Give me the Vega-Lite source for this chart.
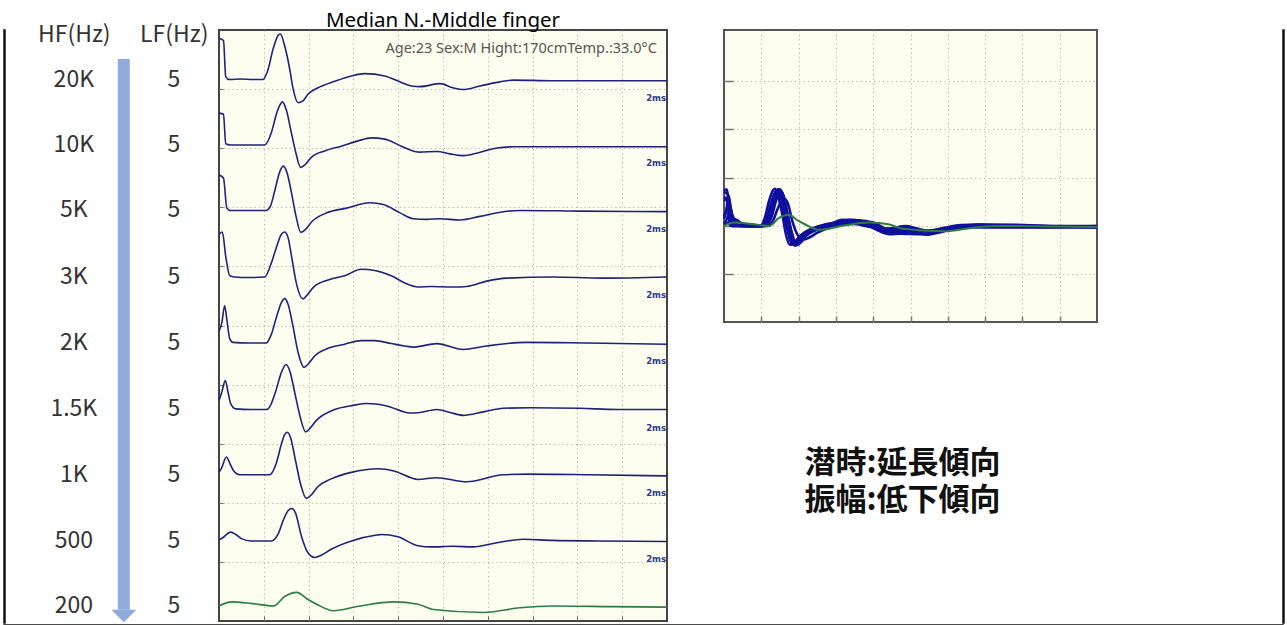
{
"$schema": "https://vega.github.io/schema/vega-lite/v6.json",
"padding": {"left": 3, "top": 9, "right": 0, "bottom": 0},
"autosize": {"type": "pad"},
"background": "white",
"datasets": {
"filters": [
{"hf":"20K","lf":"5","base":9.162},{"hf":"10K","lf":"5","base":8.054},{"hf":"5K","lf":"5","base":6.946},{"hf":"3K","lf":"5","base":5.821},{"hf":"2K","lf":"5","base":4.704},{"hf":"1.5K","lf":"5","base":3.579},{"hf":"1K","lf":"5","base":2.475},{"hf":"500","lf":"5","base":1.354},{"hf":"200","lf":"5","base":0.254}
],
"waves": [
{"hf":"20K","t":0,"amp":0.7},{"hf":"20K","t":0.2,"amp":0.66},{"hf":"20K","t":0.3,"amp":0.05},{"hf":"20K","t":0.45,"amp":0},{"hf":"20K","t":1.0,"amp":0.01},{"hf":"20K","t":1.5,"amp":0},{"hf":"20K","t":1.96,"amp":0},{"hf":"20K","t":2.19,"amp":0.17},{"hf":"20K","t":2.41,"amp":0.51},{"hf":"20K","t":2.63,"amp":0.74},{"hf":"20K","t":2.74,"amp":0.77},{"hf":"20K","t":2.93,"amp":0.57},{"hf":"20K","t":3.16,"amp":0.17},{"hf":"20K","t":3.3,"amp":-0.14},{"hf":"20K","t":3.53,"amp":-0.39},{"hf":"20K","t":3.75,"amp":-0.36},{"hf":"20K","t":3.97,"amp":-0.25},{"hf":"20K","t":4.42,"amp":-0.14},{"hf":"20K","t":5.17,"amp":-0.03},{"hf":"20K","t":5.91,"amp":0.06},{"hf":"20K","t":6.5,"amp":0.1},{"hf":"20K","t":7.4,"amp":0.06},{"hf":"20K","t":8.14,"amp":-0.05},{"hf":"20K","t":8.59,"amp":-0.11},{"hf":"20K","t":8.97,"amp":-0.12},{"hf":"20K","t":9.87,"amp":-0.07},{"hf":"20K","t":10.45,"amp":-0.14},{"hf":"20K","t":10.9,"amp":-0.17},{"hf":"20K","t":11.65,"amp":-0.11},{"hf":"20K","t":12.54,"amp":-0.04},{"hf":"20K","t":13.13,"amp":-0.01},{"hf":"20K","t":14.9,"amp":-0.02},{"hf":"20K","t":17.1,"amp":-0.02},{"hf":"20K","t":20,"amp":-0.02},
{"hf":"10K","t":0,"amp":0.54},{"hf":"10K","t":0.2,"amp":0.52},{"hf":"10K","t":0.3,"amp":0.02},{"hf":"10K","t":0.5,"amp":0},{"hf":"10K","t":1.2,"amp":0},{"hf":"10K","t":2.04,"amp":0},{"hf":"10K","t":2.34,"amp":0.21},{"hf":"10K","t":2.56,"amp":0.52},{"hf":"10K","t":2.71,"amp":0.67},{"hf":"10K","t":2.83,"amp":0.73},{"hf":"10K","t":3.0,"amp":0.6},{"hf":"10K","t":3.23,"amp":0.21},{"hf":"10K","t":3.41,"amp":-0.1},{"hf":"10K","t":3.65,"amp":-0.38},{"hf":"10K","t":3.85,"amp":-0.33},{"hf":"10K","t":4.12,"amp":-0.21},{"hf":"10K","t":4.72,"amp":-0.1},{"hf":"10K","t":5.46,"amp":-0.02},{"hf":"10K","t":6.21,"amp":0.07},{"hf":"10K","t":6.8,"amp":0.12},{"hf":"10K","t":7.4,"amp":0.1},{"hf":"10K","t":8.14,"amp":-0.02},{"hf":"10K","t":8.74,"amp":-0.11},{"hf":"10K","t":8.97,"amp":-0.12},{"hf":"10K","t":9.72,"amp":-0.11},{"hf":"10K","t":10.31,"amp":-0.15},{"hf":"10K","t":10.9,"amp":-0.18},{"hf":"10K","t":11.5,"amp":-0.14},{"hf":"10K","t":12.4,"amp":-0.05},{"hf":"10K","t":13.14,"amp":-0.03},{"hf":"10K","t":15,"amp":-0.03},{"hf":"10K","t":20,"amp":-0.03},
{"hf":"5K","t":0,"amp":0.6},{"hf":"5K","t":0.2,"amp":0.55},{"hf":"5K","t":0.35,"amp":0.04},{"hf":"5K","t":0.5,"amp":0},{"hf":"5K","t":1.2,"amp":0},{"hf":"5K","t":2.1,"amp":0},{"hf":"5K","t":2.28,"amp":0.06},{"hf":"5K","t":2.5,"amp":0.35},{"hf":"5K","t":2.69,"amp":0.63},{"hf":"5K","t":2.87,"amp":0.75},{"hf":"5K","t":3.02,"amp":0.66},{"hf":"5K","t":3.24,"amp":0.29},{"hf":"5K","t":3.44,"amp":-0.1},{"hf":"5K","t":3.65,"amp":-0.37},{"hf":"5K","t":3.84,"amp":-0.33},{"hf":"5K","t":4.14,"amp":-0.19},{"hf":"5K","t":4.81,"amp":-0.04},{"hf":"5K","t":5.7,"amp":0.04},{"hf":"5K","t":6.74,"amp":0.13},{"hf":"5K","t":7.34,"amp":0.1},{"hf":"5K","t":8.08,"amp":-0.04},{"hf":"5K","t":8.67,"amp":-0.14},{"hf":"5K","t":9.27,"amp":-0.15},{"hf":"5K","t":9.87,"amp":-0.14},{"hf":"5K","t":10.76,"amp":-0.16},{"hf":"5K","t":11.65,"amp":-0.1},{"hf":"5K","t":12.69,"amp":-0.02},{"hf":"5K","t":13.44,"amp":0},{"hf":"5K","t":16,"amp":-0.01},{"hf":"5K","t":20,"amp":-0.02},
{"hf":"3K","t":0,"amp":0.72},{"hf":"3K","t":0.15,"amp":0.76},{"hf":"3K","t":0.3,"amp":0.35},{"hf":"3K","t":0.48,"amp":0.02},{"hf":"3K","t":0.7,"amp":0},{"hf":"3K","t":1.3,"amp":-0.01},{"hf":"3K","t":2.04,"amp":0},{"hf":"3K","t":2.34,"amp":0.24},{"hf":"3K","t":2.56,"amp":0.5},{"hf":"3K","t":2.78,"amp":0.72},{"hf":"3K","t":2.93,"amp":0.76},{"hf":"3K","t":3.08,"amp":0.67},{"hf":"3K","t":3.26,"amp":0.3},{"hf":"3K","t":3.45,"amp":-0.1},{"hf":"3K","t":3.75,"amp":-0.37},{"hf":"3K","t":3.9,"amp":-0.32},{"hf":"3K","t":4.2,"amp":-0.18},{"hf":"3K","t":4.87,"amp":-0.05},{"hf":"3K","t":5.61,"amp":0.02},{"hf":"3K","t":6.35,"amp":0.13},{"hf":"3K","t":6.95,"amp":0.11},{"hf":"3K","t":7.69,"amp":0.02},{"hf":"3K","t":8.29,"amp":-0.1},{"hf":"3K","t":8.88,"amp":-0.17},{"hf":"3K","t":9.48,"amp":-0.16},{"hf":"3K","t":10.46,"amp":-0.17},{"hf":"3K","t":11.06,"amp":-0.16},{"hf":"3K","t":11.95,"amp":-0.07},{"hf":"3K","t":12.84,"amp":-0.02},{"hf":"3K","t":14.9,"amp":0},{"hf":"3K","t":17.1,"amp":-0.02},{"hf":"3K","t":20,"amp":0},
{"hf":"2K","t":0,"amp":0.2},{"hf":"2K","t":0.13,"amp":0.35},{"hf":"2K","t":0.25,"amp":0.63},{"hf":"2K","t":0.35,"amp":0.4},{"hf":"2K","t":0.48,"amp":0.07},{"hf":"2K","t":0.63,"amp":0.01},{"hf":"2K","t":1.3,"amp":0},{"hf":"2K","t":2.11,"amp":0},{"hf":"2K","t":2.34,"amp":0.15},{"hf":"2K","t":2.56,"amp":0.43},{"hf":"2K","t":2.78,"amp":0.68},{"hf":"2K","t":2.93,"amp":0.75},{"hf":"2K","t":3.08,"amp":0.66},{"hf":"2K","t":3.3,"amp":0.29},{"hf":"2K","t":3.53,"amp":-0.16},{"hf":"2K","t":3.8,"amp":-0.41},{"hf":"2K","t":3.97,"amp":-0.36},{"hf":"2K","t":4.27,"amp":-0.22},{"hf":"2K","t":4.87,"amp":-0.09},{"hf":"2K","t":5.61,"amp":-0.02},{"hf":"2K","t":6.35,"amp":0.04},{"hf":"2K","t":6.95,"amp":0.04},{"hf":"2K","t":7.69,"amp":-0.01},{"hf":"2K","t":8.29,"amp":-0.05},{"hf":"2K","t":8.67,"amp":-0.07},{"hf":"2K","t":9.72,"amp":-0.01},{"hf":"2K","t":10.9,"amp":-0.11},{"hf":"2K","t":11.95,"amp":-0.05},{"hf":"2K","t":13.74,"amp":0.01},{"hf":"2K","t":16.4,"amp":0},{"hf":"2K","t":20,"amp":-0.02},
{"hf":"1.5K","t":0,"amp":0.15},{"hf":"1.5K","t":0.13,"amp":0.3},{"hf":"1.5K","t":0.28,"amp":0.49},{"hf":"1.5K","t":0.4,"amp":0.3},{"hf":"1.5K","t":0.52,"amp":0.1},{"hf":"1.5K","t":0.75,"amp":0.01},{"hf":"1.5K","t":1.4,"amp":0},{"hf":"1.5K","t":2.13,"amp":0},{"hf":"1.5K","t":2.3,"amp":0.07},{"hf":"1.5K","t":2.5,"amp":0.27},{"hf":"1.5K","t":2.8,"amp":0.64},{"hf":"1.5K","t":2.99,"amp":0.76},{"hf":"1.5K","t":3.17,"amp":0.64},{"hf":"1.5K","t":3.39,"amp":0.27},{"hf":"1.5K","t":3.62,"amp":-0.12},{"hf":"1.5K","t":3.87,"amp":-0.38},{"hf":"1.5K","t":4.06,"amp":-0.32},{"hf":"1.5K","t":4.36,"amp":-0.18},{"hf":"1.5K","t":5.1,"amp":-0.01},{"hf":"1.5K","t":6.0,"amp":0.07},{"hf":"1.5K","t":6.59,"amp":0.1},{"hf":"1.5K","t":7.49,"amp":0.06},{"hf":"1.5K","t":8.53,"amp":-0.06},{"hf":"1.5K","t":8.97,"amp":-0.05},{"hf":"1.5K","t":9.72,"amp":0},{"hf":"1.5K","t":10.31,"amp":-0.05},{"hf":"1.5K","t":10.9,"amp":-0.1},{"hf":"1.5K","t":11.8,"amp":-0.04},{"hf":"1.5K","t":12.69,"amp":0.02},{"hf":"1.5K","t":13.88,"amp":0.03},{"hf":"1.5K","t":16.1,"amp":0.02},{"hf":"1.5K","t":17.8,"amp":0},{"hf":"1.5K","t":20,"amp":0},
{"hf":"1K","t":0,"amp":0.05},{"hf":"1K","t":0.1,"amp":0.1},{"hf":"1K","t":0.33,"amp":0.3},{"hf":"1K","t":0.5,"amp":0.18},{"hf":"1K","t":0.63,"amp":0.08},{"hf":"1K","t":0.92,"amp":0},{"hf":"1K","t":1.6,"amp":0},{"hf":"1K","t":2.26,"amp":0},{"hf":"1K","t":2.56,"amp":0.2},{"hf":"1K","t":2.78,"amp":0.51},{"hf":"1K","t":2.93,"amp":0.68},{"hf":"1K","t":3.05,"amp":0.72},{"hf":"1K","t":3.2,"amp":0.62},{"hf":"1K","t":3.41,"amp":0.25},{"hf":"1K","t":3.65,"amp":-0.17},{"hf":"1K","t":3.9,"amp":-0.4},{"hf":"1K","t":4.12,"amp":-0.34},{"hf":"1K","t":4.42,"amp":-0.2},{"hf":"1K","t":5.01,"amp":-0.07},{"hf":"1K","t":5.91,"amp":0.04},{"hf":"1K","t":7.1,"amp":0.1},{"hf":"1K","t":7.84,"amp":0.06},{"hf":"1K","t":8.88,"amp":-0.08},{"hf":"1K","t":9.72,"amp":-0.05},{"hf":"1K","t":11.06,"amp":-0.12},{"hf":"1K","t":12.69,"amp":0},{"hf":"1K","t":13.74,"amp":0.01},{"hf":"1K","t":16.5,"amp":0},{"hf":"1K","t":20,"amp":-0.02},
{"hf":"500","t":0,"amp":0.02},{"hf":"500","t":0.15,"amp":0.05},{"hf":"500","t":0.52,"amp":0.15},{"hf":"500","t":0.75,"amp":0.11},{"hf":"500","t":1.0,"amp":0.04},{"hf":"500","t":1.44,"amp":0},{"hf":"500","t":2.34,"amp":0},{"hf":"500","t":2.63,"amp":0.11},{"hf":"500","t":2.86,"amp":0.34},{"hf":"500","t":3.08,"amp":0.51},{"hf":"500","t":3.26,"amp":0.55},{"hf":"500","t":3.41,"amp":0.48},{"hf":"500","t":3.68,"amp":0.08},{"hf":"500","t":3.97,"amp":-0.2},{"hf":"500","t":4.27,"amp":-0.28},{"hf":"500","t":4.57,"amp":-0.24},{"hf":"500","t":5.01,"amp":-0.14},{"hf":"500","t":5.91,"amp":0},{"hf":"500","t":7.04,"amp":0.1},{"hf":"500","t":7.25,"amp":0.11},{"hf":"500","t":7.99,"amp":0.07},{"hf":"500","t":8.88,"amp":-0.08},{"hf":"500","t":9.48,"amp":-0.1},{"hf":"500","t":10.46,"amp":-0.09},{"hf":"500","t":11.35,"amp":-0.1},{"hf":"500","t":12.4,"amp":-0.03},{"hf":"500","t":13.59,"amp":0.03},{"hf":"500","t":14.9,"amp":0.01},{"hf":"500","t":17,"amp":0},{"hf":"500","t":20,"amp":-0.01},
{"hf":"200","t":0,"amp":0},{"hf":"200","t":0.57,"amp":0.07},{"hf":"200","t":1.5,"amp":0.04},{"hf":"200","t":2.43,"amp":0},{"hf":"200","t":2.93,"amp":0.16},{"hf":"200","t":3.47,"amp":0.23},{"hf":"200","t":3.97,"amp":0.11},{"hf":"200","t":4.36,"amp":0.03},{"hf":"200","t":5.1,"amp":-0.08},{"hf":"200","t":6.3,"amp":0},{"hf":"200","t":7.78,"amp":0.07},{"hf":"200","t":8.88,"amp":0.03},{"hf":"200","t":9.57,"amp":-0.06},{"hf":"200","t":11.8,"amp":-0.11},{"hf":"200","t":13.44,"amp":-0.03},{"hf":"200","t":14.9,"amp":0},{"hf":"200","t":17.5,"amp":-0.01},{"hf":"200","t":20,"amp":-0.02}
]
},
"spacing": 0,
"bounds": "full",
"vconcat": [
{
"spacing": 7,
"bounds": "flush",
"hconcat": [
{
"width": 1, "height": 593,
"view": {"stroke": "#111111", "strokeWidth": 1.5, "fill": "#111111"},
"data": {"values": []},
"mark": {"type": "point", "opacity": 0}
},
{
"width": 200, "height": 591,
"view": {"stroke": null},
"layer": [
{
"data": {"name": "filters"},
"transform": [{"fold": ["hf", "lf"], "as": ["col", "val"]}],
"mark": {"type": "text", "fontSize": 23, "font": "Noto Sans CJK JP", "color": "#333333", "baseline": "middle"},
"encoding": {
"x": {"field": "col", "type": "nominal", "scale": {"type": "point", "domain": ["hf", "arrow", "lf"], "padding": 1.04, "align": 0.618},
"axis": {"orient": "top", "title": null, "domain": false, "ticks": false, "tickSize": 0, "labelPadding": -4, "labelBaseline": "middle", "labelAngle": 0, "labelFontSize": 23, "labelFont": "Noto Sans CJK JP", "labelColor": "#333333", "labelExpr": "datum.value == 'hf' ? 'HF(Hz)' : datum.value == 'lf' ? 'LF(Hz)' : ''"}},
"y": {"field": "base", "type": "quantitative", "scale": {"domain": [0, 10], "nice": false, "zero": false}, "axis": null},
"text": {"field": "val"}
}
},
{
"data": {"values": [{"arrow": "HF decreasing"}]},
"mark": {"type": "rule", "color": "#8FAADC", "strokeWidth": 12},
"encoding": {"x": {"datum": "arrow"}, "y": {"datum": 9.509}, "y2": {"datum": 0.19}}
},
{
"data": {"values": [{"arrow": "HF decreasing"}]},
"mark": {"type": "point", "shape": "M-1,-0.5L1,-0.5L0,0.5Z", "filled": true, "color": "#8FAADC", "opacity": 1, "size": 625},
"encoding": {"x": {"datum": "arrow"}, "y": {"datum": 0.085}}
}
]
},
{
"width": 448, "height": 591,
"title": {"text": "Median N.-Middle finger", "fontSize": 20.5, "font": "Noto Sans", "fontWeight": "normal", "color": "#000000", "offset": -1, "anchor": "middle"},
"view": {"stroke": "#444444", "strokeWidth": 2, "fill": "#FEFEF0"},
"resolve": {"scale": {"y": "independent"}},
"layer": [
{
"data": {"values": [{"info": "Age:23 Sex:M Hight:170cmTemp.:33.0°C"}]},
"mark": {"type": "text", "align": "right", "baseline": "middle", "fontSize": 14.5, "font": "Noto Sans", "color": "#555555"},
"encoding": {
"x": {"datum": 19.55, "type": "quantitative", "scale": {"domain": [0, 20], "nice": false, "zero": false}, "axis": {"orient": "bottom", "values": [2,4,6,8,10,12,14,16,18], "grid": true, "gridColor": "#a3a396", "gridDash": [1, 3.4], "gridWidth": 1, "labels": false, "ticks": true, "tickSize": -5, "tickColor": "#666666", "domain": false, "title": null}},
"y": {"datum": 9.686, "type": "quantitative", "scale": {"domain": [0, 10], "nice": false, "zero": false}, "axis": {"orient": "left", "values": [1,2,3,4,5,6,7,8,9], "grid": true, "gridColor": "#a3a396", "gridDash": [1, 3.4], "gridWidth": 1, "labels": false, "ticks": true, "tickSize": -4, "tickColor": "#666666", "domain": false, "title": null}},
"text": {"field": "info"}
}
},
{
"data": {"name": "waves"}, "transform": [{"filter": {"field": "hf", "equal": "20K"}}],
"encoding": {"x": {"field": "t", "type": "quantitative", "title": null}, "y": {"field": "amp", "type": "quantitative", "scale": {"domain": [-9.162, 0.838], "nice": false, "zero": false}, "axis": null}},
"layer": [
{"mark": {"type": "line", "color": "#1e2378", "strokeWidth": 1.6, "interpolate": "monotone"}},
{"transform": [{"filter": "datum.t == 20"}], "mark": {"type": "text", "text": "2ms", "align": "right", "baseline": "middle", "font": "DejaVu Sans", "fontWeight": "bold", "fontSize": 8.5, "color": "#2b3a8c", "dx": -1}, "encoding": {"y": {"datum": -0.305}}}
]
},
{
"data": {"name": "waves"}, "transform": [{"filter": {"field": "hf", "equal": "10K"}}],
"encoding": {"x": {"field": "t", "type": "quantitative", "title": null}, "y": {"field": "amp", "type": "quantitative", "scale": {"domain": [-8.054, 1.946], "nice": false, "zero": false}, "axis": null}},
"layer": [
{"mark": {"type": "line", "color": "#1e2378", "strokeWidth": 1.6, "interpolate": "monotone"}},
{"transform": [{"filter": "datum.t == 20"}], "mark": {"type": "text", "text": "2ms", "align": "right", "baseline": "middle", "font": "DejaVu Sans", "fontWeight": "bold", "fontSize": 8.5, "color": "#2b3a8c", "dx": -1}, "encoding": {"y": {"datum": -0.305}}}
]
},
{
"data": {"name": "waves"}, "transform": [{"filter": {"field": "hf", "equal": "5K"}}],
"encoding": {"x": {"field": "t", "type": "quantitative", "title": null}, "y": {"field": "amp", "type": "quantitative", "scale": {"domain": [-6.946, 3.054], "nice": false, "zero": false}, "axis": null}},
"layer": [
{"mark": {"type": "line", "color": "#1e2378", "strokeWidth": 1.6, "interpolate": "monotone"}},
{"transform": [{"filter": "datum.t == 20"}], "mark": {"type": "text", "text": "2ms", "align": "right", "baseline": "middle", "font": "DejaVu Sans", "fontWeight": "bold", "fontSize": 8.5, "color": "#2b3a8c", "dx": -1}, "encoding": {"y": {"datum": -0.305}}}
]
},
{
"data": {"name": "waves"}, "transform": [{"filter": {"field": "hf", "equal": "3K"}}],
"encoding": {"x": {"field": "t", "type": "quantitative", "title": null}, "y": {"field": "amp", "type": "quantitative", "scale": {"domain": [-5.821, 4.179], "nice": false, "zero": false}, "axis": null}},
"layer": [
{"mark": {"type": "line", "color": "#1e2378", "strokeWidth": 1.6, "interpolate": "monotone"}},
{"transform": [{"filter": "datum.t == 20"}], "mark": {"type": "text", "text": "2ms", "align": "right", "baseline": "middle", "font": "DejaVu Sans", "fontWeight": "bold", "fontSize": 8.5, "color": "#2b3a8c", "dx": -1}, "encoding": {"y": {"datum": -0.305}}}
]
},
{
"data": {"name": "waves"}, "transform": [{"filter": {"field": "hf", "equal": "2K"}}],
"encoding": {"x": {"field": "t", "type": "quantitative", "title": null}, "y": {"field": "amp", "type": "quantitative", "scale": {"domain": [-4.704, 5.296], "nice": false, "zero": false}, "axis": null}},
"layer": [
{"mark": {"type": "line", "color": "#1e2378", "strokeWidth": 1.6, "interpolate": "monotone"}},
{"transform": [{"filter": "datum.t == 20"}], "mark": {"type": "text", "text": "2ms", "align": "right", "baseline": "middle", "font": "DejaVu Sans", "fontWeight": "bold", "fontSize": 8.5, "color": "#2b3a8c", "dx": -1}, "encoding": {"y": {"datum": -0.305}}}
]
},
{
"data": {"name": "waves"}, "transform": [{"filter": {"field": "hf", "equal": "1.5K"}}],
"encoding": {"x": {"field": "t", "type": "quantitative", "title": null}, "y": {"field": "amp", "type": "quantitative", "scale": {"domain": [-3.579, 6.421], "nice": false, "zero": false}, "axis": null}},
"layer": [
{"mark": {"type": "line", "color": "#1e2378", "strokeWidth": 1.6, "interpolate": "monotone"}},
{"transform": [{"filter": "datum.t == 20"}], "mark": {"type": "text", "text": "2ms", "align": "right", "baseline": "middle", "font": "DejaVu Sans", "fontWeight": "bold", "fontSize": 8.5, "color": "#2b3a8c", "dx": -1}, "encoding": {"y": {"datum": -0.305}}}
]
},
{
"data": {"name": "waves"}, "transform": [{"filter": {"field": "hf", "equal": "1K"}}],
"encoding": {"x": {"field": "t", "type": "quantitative", "title": null}, "y": {"field": "amp", "type": "quantitative", "scale": {"domain": [-2.475, 7.525], "nice": false, "zero": false}, "axis": null}},
"layer": [
{"mark": {"type": "line", "color": "#1e2378", "strokeWidth": 1.6, "interpolate": "monotone"}},
{"transform": [{"filter": "datum.t == 20"}], "mark": {"type": "text", "text": "2ms", "align": "right", "baseline": "middle", "font": "DejaVu Sans", "fontWeight": "bold", "fontSize": 8.5, "color": "#2b3a8c", "dx": -1}, "encoding": {"y": {"datum": -0.305}}}
]
},
{
"data": {"name": "waves"}, "transform": [{"filter": {"field": "hf", "equal": "500"}}],
"encoding": {"x": {"field": "t", "type": "quantitative", "title": null}, "y": {"field": "amp", "type": "quantitative", "scale": {"domain": [-1.354, 8.646], "nice": false, "zero": false}, "axis": null}},
"layer": [
{"mark": {"type": "line", "color": "#1e2378", "strokeWidth": 1.6, "interpolate": "monotone"}},
{"transform": [{"filter": "datum.t == 20"}], "mark": {"type": "text", "text": "2ms", "align": "right", "baseline": "middle", "font": "DejaVu Sans", "fontWeight": "bold", "fontSize": 8.5, "color": "#2b3a8c", "dx": -1}, "encoding": {"y": {"datum": -0.305}}}
]
},
{
"data": {"name": "waves"}, "transform": [{"filter": {"field": "hf", "equal": "200"}}],
"encoding": {"x": {"field": "t", "type": "quantitative", "title": null}, "y": {"field": "amp", "type": "quantitative", "scale": {"domain": [-0.254, 9.746], "nice": false, "zero": false}, "axis": null}},
"mark": {"type": "line", "color": "#2e7b45", "strokeWidth": 1.6, "interpolate": "monotone"}
}
]
},
{
"width": 43, "height": 10,
"view": {"stroke": null},
"data": {"values": []},
"mark": {"type": "point", "opacity": 0}
},
{
"width": 373, "height": 292,
"view": {"stroke": "#555555", "strokeWidth": 2, "fill": "#FEFEF0"},
"title": {"text": ["潜時:延長傾向", "振幅:低下傾向"], "orient": "bottom", "anchor": "middle", "offset": 126, "dx": -8, "fontSize": 31, "lineHeight": 37, "font": "Noto Sans CJK JP", "fontWeight": "bold", "color": "#111111"},
"data": {"name": "waves"},
"encoding": {
"x": {"field": "t", "type": "quantitative", "scale": {"domain": [0, 20], "nice": false, "zero": false}, "axis": {"orient": "bottom", "values": [2,4,6,8,10,12,14,16,18], "grid": true, "gridColor": "#a3a396", "gridDash": [1, 3.4], "gridWidth": 1, "labels": false, "ticks": true, "tickSize": -6, "tickWidth": 1.5, "tickColor": "#777777", "domain": false, "title": null}},
"y": {"field": "amp", "type": "quantitative", "scale": {"domain": [-1.99, 4.06], "nice": false, "zero": false}, "axis": {"orient": "left", "values": [-1,0,1,2,3], "grid": true, "gridColor": "#a3a396", "gridDash": [1, 3.4], "gridWidth": 1, "labels": false, "ticks": true, "tickSize": -9, "tickWidth": 1.5, "tickColor": "#777777", "domain": false, "title": null}}
},
"layer": [
{"transform": [{"filter": "datum.hf != '200'"}], "mark": {"type": "line", "color": "#10109e", "strokeWidth": 2.6, "interpolate": "monotone"}, "encoding": {"detail": {"field": "hf"}}},
{"transform": [{"filter": "datum.hf == '200'"}], "mark": {"type": "line", "color": "#2e7b45", "strokeWidth": 2, "interpolate": "monotone"}}
]
},
{
"width": 172, "height": 10,
"view": {"stroke": null},
"data": {"values": []},
"mark": {"type": "point", "opacity": 0}
},
{
"width": 1, "height": 593,
"view": {"stroke": "#111111", "strokeWidth": 1.5, "fill": "#111111"},
"data": {"values": []},
"mark": {"type": "point", "opacity": 0}
}
]
},
{
"width": 1279, "height": 1,
"view": {"stroke": "#111111", "strokeWidth": 1.5, "fill": "#111111"},
"data": {"values": []},
"mark": {"type": "point", "opacity": 0}
}
]
}
